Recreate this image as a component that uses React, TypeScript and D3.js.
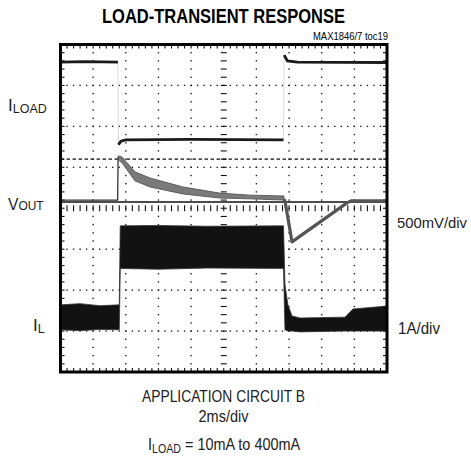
import React from "react";
import * as d3 from "d3";

// scope screen: 2ms/div over 10 divisions, 8 vertical divisions
const timeDomain = [0, 20];
const divDomain = [-4, 4];

// I_LOAD trace [ms, div]
const iloadBefore = [[0, 3.57], [1.5, 3.58], [3.52, 3.57]];
const iloadDuring = [[3.55, 1.55], [3.7, 1.64], [4.0, 1.67], [8, 1.68], [13.66, 1.67]];
const iloadAfter = [[13.7, 3.74], [13.9, 3.6], [14.5, 3.57], [20, 3.56]];

// V_OUT trace [ms, div]
const voutBefore = [[0, 0.2], [3.5, 0.2], [3.53, 1.26]];
// decaying band [ms, low, high]
const voutBand = [
  [3.55, 1.18, 1.28],
  [3.77, 1.11, 1.25],
  [4.56, 0.67, 0.89],
  [5.48, 0.52, 0.74],
  [7.5, 0.35, 0.52],
  [9.75, 0.25, 0.37],
  [11.6, 0.23, 0.32],
  [13.69, 0.2, 0.3],
];
const voutAfter = [[13.69, 0.22], [13.75, 0.18], [14.18, -0.82], [17.55, 0.13], [17.8, 0.18], [20, 0.18]];

// I_L inductor current envelope [ms, low, high]
const ilBand = [
  [0, -2.97, -2.36],
  [1.2, -2.99, -2.33],
  [2.4, -2.96, -2.38],
  [3.6, -2.97, -2.36],
  [3.66, -1.47, -0.43],
  [6, -1.49, -0.42],
  [9, -1.46, -0.44],
  [13.66, -1.47, -0.43],
  [13.75, -2.97, -1.87],
  [13.93, -3.0, -2.36],
  [14.18, -3.0, -2.63],
  [14.67, -3.02, -2.68],
  [17.43, -3.0, -2.66],
  [17.92, -3.0, -2.46],
  [20, -3.0, -2.39],
];

const refLevel = 0.15;
const cursorLevel = 1.2;

const font = "'Liberation Sans Narrow', 'Arial Narrow', 'Liberation Sans', sans-serif";

export default function App() {
  const x = d3.scaleLinear().domain(timeDomain).range([60.5, 387]);
  const y = d3.scaleLinear().domain(divDomain).range([372, 44.5]);

  const line = d3.line<number[]>().x(d => x(d[0])).y(d => y(d[1]));
  const area = d3
    .area<number[]>()
    .x(d => x(d[0]))
    .y0(d => y(d[1]))
    .y1(d => y(d[2]));

  const minorT = d3.range(0.4, 20, 0.4);
  const minorD = d3.range(-3.8, 4, 0.2);
  const majorT = d3.range(2, 20, 2);
  const majorD = d3.range(-3, 4, 1);

  const dots: JSX.Element[] = [];
  majorT.forEach(t => {
    minorD.forEach(d => {
      if (t === 10) return;
      dots.push(<rect key={"v" + t + "_" + d} x={x(t) - 0.7} y={y(d) - 0.7} width={1.4} height={1.4} fill="#222" />);
    });
  });
  majorD.forEach(d => {
    minorT.forEach(t => {
      if (d === 0) return;
      dots.push(<rect key={"h" + d + "_" + t} x={x(t) - 0.7} y={y(d) - 0.7} width={1.4} height={1.4} fill="#222" />);
    });
  });

  const ticks: JSX.Element[] = [];
  minorT.forEach(t => {
    ticks.push(<line key={"tt" + t} x1={x(t)} x2={x(t)} y1={y(4)} y2={y(4) + 4} />);
    ticks.push(<line key={"tb" + t} x1={x(t)} x2={x(t)} y1={y(-4)} y2={y(-4) - 4} />);
    ticks.push(<line key={"tc" + t} x1={x(t)} x2={x(t)} y1={y(0) - 3} y2={y(0) + 3} />);
  });
  minorD.forEach(d => {
    ticks.push(<line key={"tl" + d} x1={x(0)} x2={x(0) + 4} y1={y(d)} y2={y(d)} />);
    ticks.push(<line key={"tr" + d} x1={x(20)} x2={x(20) - 4} y1={y(d)} y2={y(d)} />);
    ticks.push(<line key={"tm" + d} x1={x(10) - 3} x2={x(10) + 3} y1={y(d)} y2={y(d)} />);
  });

  const last = (a: number[][]) => a[a.length - 1];

  return (
    <svg width={471} height={457} style={{ position: "absolute", left: 0, top: 0 }}>
      <rect width={471} height={457} fill="#fff" />

      <text x={223.5} y={23} textAnchor="middle" fontFamily={font} fontWeight="bold" fontSize={21}
        textLength={243} lengthAdjust="spacingAndGlyphs">LOAD-TRANSIENT RESPONSE</text>
      <text x={388} y={40} textAnchor="end" fontFamily={font} fontSize={11}
        textLength={75} lengthAdjust="spacingAndGlyphs">MAX1846/7 toc19</text>

      <g>{dots}</g>
      <g stroke="#111" strokeWidth={1.1}>{ticks}</g>

      {/* reference and cursor lines */}
      <line x1={x(0)} x2={x(20)} y1={y(refLevel)} y2={y(refLevel)} stroke="#111" strokeWidth={1.5} />
      <line x1={x(0)} x2={x(20)} y1={y(cursorLevel)} y2={y(cursorLevel)} stroke="#111" strokeWidth={1.4}
        strokeDasharray="3.5,2.5" />

      {/* I_L */}
      <path d={area(ilBand) || ""} fill="#121212" stroke="#333" strokeWidth={0.8} />

      {/* V_OUT */}
      <path d={line(voutBefore) || ""} fill="none" stroke="#333" strokeWidth={1.3} />
      <path d={area(voutBand) || ""} fill="#7a7a7a" stroke="#555" strokeWidth={0.9} />
      <path d={line(voutAfter) || ""} fill="none" stroke="#555" strokeWidth={3.2} strokeLinejoin="round" />

      {/* I_LOAD */}
      <line x1={x(last(iloadBefore)[0])} x2={x(iloadDuring[0][0])} y1={y(last(iloadBefore)[1])} y2={y(iloadDuring[0][1])}
        stroke="#d0d0d0" strokeWidth={0.8} />
      <line x1={x(last(iloadDuring)[0])} x2={x(iloadAfter[0][0])} y1={y(last(iloadDuring)[1])} y2={y(iloadAfter[0][1])}
        stroke="#d0d0d0" strokeWidth={0.8} />
      <path d={line(iloadBefore) || ""} fill="none" stroke="#1a1a1a" strokeWidth={2.8} />
      <path d={line(iloadDuring) || ""} fill="none" stroke="#1a1a1a" strokeWidth={2.8} />
      <path d={line(iloadAfter) || ""} fill="none" stroke="#1a1a1a" strokeWidth={2.8} />

      <rect x={x(0)} y={y(4)} width={x(20) - x(0)} height={y(-4) - y(4)} fill="none" stroke="#000" strokeWidth={3} />

      {/* channel labels */}
      <text x={8} y={111} fontFamily={font} fontSize={17} fill="#222">
        I<tspan fontSize={12.5} dy={2}>LOAD</tspan>
      </text>
      <text transform="translate(8,210) scale(0.92,1)" fontFamily={font} fontSize={17} fill="#222">
        V<tspan fontSize={13}>OUT</tspan>
      </text>
      <text x={33} y={331} fontFamily={font} fontSize={17} fill="#222">
        I<tspan fontSize={12.5} dy={2}>L</tspan>
      </text>
      <text x={397} y={228} fontFamily={font} fontSize={15.5} fill="#222"
        textLength={70} lengthAdjust="spacingAndGlyphs">500mV/div</text>
      <text x={398} y={334} fontFamily={font} fontSize={16} fill="#222"
        textLength={42} lengthAdjust="spacingAndGlyphs">1A/div</text>

      <text x={223.5} y={402} textAnchor="middle" fontFamily={font} fontSize={17} fill="#222"
        textLength={163} lengthAdjust="spacingAndGlyphs">APPLICATION CIRCUIT B</text>
      <text x={223.5} y={422} textAnchor="middle" fontFamily={font} fontSize={17} fill="#222"
        textLength={50} lengthAdjust="spacingAndGlyphs">2ms/div</text>
      <text transform="translate(148,450) scale(0.85,1)" fontFamily={font} fontSize={17} fill="#222">
        I<tspan fontSize={12.5} dy={3}>LOAD</tspan><tspan dy={-3}> = 10mA to 400mA</tspan>
      </text>
    </svg>
  );
}
